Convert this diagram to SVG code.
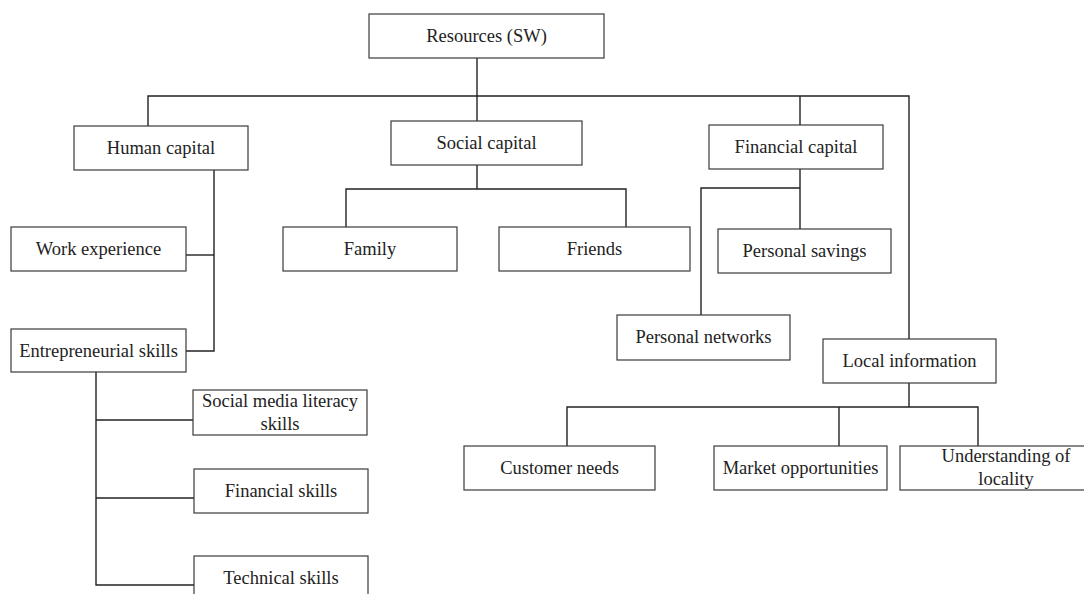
<svg xmlns="http://www.w3.org/2000/svg" width="1084" height="594" viewBox="0 0 1084 594">
  <style>
    .box { fill: #ffffff; stroke: #3a3a3a; stroke-width: 1.2; }
    .lbl { font-family: "Liberation Serif", "Times New Roman", serif; font-size: 18.5px; fill: #222222; text-anchor: middle; }
    .wire { fill: none; stroke: #222222; stroke-width: 1.4; }
  </style>
  <rect x="0" y="0" width="1084" height="594" fill="#ffffff"/>

  <!-- connectors -->
  <g id="connectors" class="wire">
    <path d="M477,58 V96"/>
    <path d="M148,126 V96 H909 V339"/>
    <path d="M477,96 V121"/>
    <path d="M800,96 V125"/>
    <path d="M477,165 V189"/>
    <path d="M346,227 V189 H626 V227"/>
    <path d="M800,169 V229"/>
    <path d="M701,315 V188 H800"/>
    <path d="M909,383 V407"/>
    <path d="M567,446 V407 H978 V446"/>
    <path d="M839,407 V446"/>
    <path d="M214,170 V351 H186"/>
    <path d="M186,255 H214"/>
    <path d="M96,372 V585 H194"/>
    <path d="M96,420 H193"/>
    <path d="M96,498 H194"/>
  </g>

  <g id="resources">
    <rect class="box" x="369" y="14" width="235" height="44"/>
    <text class="lbl" x="486.5" y="42">Resources (SW)</text>
  </g>
  <g id="human-capital">
    <rect class="box" x="74" y="126" width="174" height="44"/>
    <text class="lbl" x="161" y="154">Human capital</text>
  </g>
  <g id="social-capital">
    <rect class="box" x="391" y="121" width="191" height="44"/>
    <text class="lbl" x="486.5" y="149">Social capital</text>
  </g>
  <g id="financial-capital">
    <rect class="box" x="709" y="125" width="174" height="44"/>
    <text class="lbl" x="796" y="153">Financial capital</text>
  </g>
  <g id="work-experience">
    <rect class="box" x="11" y="227" width="175" height="44"/>
    <text class="lbl" x="98.5" y="255">Work experience</text>
  </g>
  <g id="family">
    <rect class="box" x="283" y="227" width="174" height="44"/>
    <text class="lbl" x="370" y="255">Family</text>
  </g>
  <g id="friends">
    <rect class="box" x="499" y="227" width="191" height="44"/>
    <text class="lbl" x="594.5" y="255">Friends</text>
  </g>
  <g id="personal-savings">
    <rect class="box" x="718" y="229" width="173" height="44"/>
    <text class="lbl" x="804.5" y="257">Personal savings</text>
  </g>
  <g id="personal-networks">
    <rect class="box" x="617" y="315" width="173" height="45"/>
    <text class="lbl" x="703.5" y="343">Personal networks</text>
  </g>
  <g id="local-information">
    <rect class="box" x="823" y="339" width="173" height="44"/>
    <text class="lbl" x="909.5" y="367">Local information</text>
  </g>
  <g id="entrepreneurial-skills">
    <rect class="box" x="11" y="329" width="175" height="43"/>
    <text class="lbl" x="98.5" y="357">Entrepreneurial skills</text>
  </g>
  <g id="social-media-skills">
    <rect class="box" x="193" y="390" width="174" height="45"/>
    <text class="lbl" x="280" y="407">Social media literacy</text>
    <text class="lbl" x="280" y="430">skills</text>
  </g>
  <g id="financial-skills">
    <rect class="box" x="194" y="469" width="174" height="44"/>
    <text class="lbl" x="281" y="497">Financial skills</text>
  </g>
  <g id="technical-skills">
    <rect class="box" x="194" y="556" width="174" height="50"/>
    <text class="lbl" x="281" y="584">Technical skills</text>
  </g>
  <g id="customer-needs">
    <rect class="box" x="464" y="446" width="191" height="44"/>
    <text class="lbl" x="559.5" y="474">Customer needs</text>
  </g>
  <g id="market-opportunities">
    <rect class="box" x="714" y="446" width="173" height="44"/>
    <text class="lbl" x="800.5" y="474">Market opportunities</text>
  </g>
  <g id="understanding-locality">
    <rect class="box" x="900" y="446" width="212" height="44"/>
    <text class="lbl" x="1006" y="462">Understanding of</text>
    <text class="lbl" x="1006" y="485">locality</text>
  </g>
</svg>
